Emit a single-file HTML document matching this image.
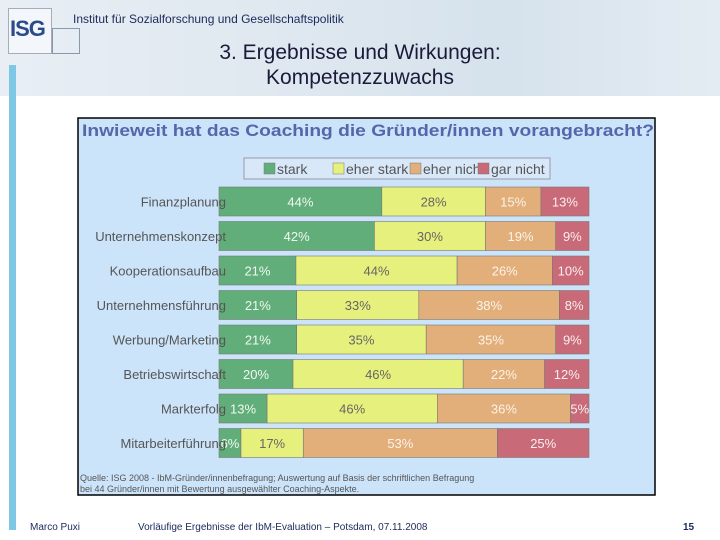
<!DOCTYPE html>
<html><head><meta charset="utf-8"><style>
body{margin:0;width:720px;height:540px;overflow:hidden;background:#fff;font-family:"Liberation Sans",sans-serif;position:relative}
.abs{position:absolute}
</style></head><body>
<div class="abs" style="left:0;top:0;width:720px;height:96px;background:linear-gradient(90deg,#e8eef4,#dfe8f0 40%,#d6e2ec 70%,#e4ecf3)"></div>
<div class="abs" style="left:8px;top:8px;width:42px;height:44px;border:1px solid #aab;background:#f3f6fa"></div>
<div class="abs" style="left:52px;top:28px;width:26px;height:24px;border:1px solid #8899aa"></div>
<div class="abs" style="left:10px;top:16px;font-size:22px;font-weight:bold;color:#2a4a8a;letter-spacing:-1px">ISG</div>
<div class="abs" style="left:73px;top:12px;font-size:12px;color:#1a2a5a">Institut für Sozialforschung und Gesellschaftspolitik</div>
<div class="abs" style="left:9px;top:65px;width:7px;height:465px;background:#7ec8e6"></div>
<div class="abs" style="left:150px;top:40px;width:420px;text-align:center;font-size:21px;line-height:25px;color:#1a1a3a">3. Ergebnisse und Wirkungen:<br>Kompetenzzuwachs</div>
<svg class="abs" style="left:0;top:0" width="720" height="540">
<rect x="78" y="118" width="577" height="377" fill="#cce4fa" stroke="#000" stroke-width="1.5"/>
<text x="82" y="136" font-size="17" font-weight="bold" fill="#5566aa" textLength="572" lengthAdjust="spacingAndGlyphs">Inwieweit hat das Coaching die Gründer/innen vorangebracht?</text>
<rect x="244" y="158" width="306" height="21" fill="#d8e8f8" stroke="#99a"/>
<g id="legend" font-size="14" fill="#555"></g>
<g id="bars"></g>
<text x="80" y="481" font-size="9" fill="#555">Quelle: ISG 2008 - IbM-Gründer/innenbefragung; Auswertung auf Basis der schriftlichen Befragung</text>
<text x="80" y="492" font-size="9" fill="#555">bei 44 Gründer/innen mit Bewertung ausgewählter Coaching-Aspekte.</text>
<text x="30" y="530" font-size="10" fill="#1a2a5a">Marco Puxi</text>
<text x="138" y="530" font-size="10" fill="#1a2a5a">Vorläufige Ergebnisse der IbM-Evaluation – Potsdam, 07.11.2008</text>
<text x="683" y="530" font-size="10" font-weight="bold" fill="#1a2a5a">15</text>
</svg>
<script>
const categories=["Finanzplanung","Unternehmenskonzept","Kooperationsaufbau","Unternehmensführung","Werbung/Marketing","Betriebswirtschaft","Markterfolg","Mitarbeiterführung"];
const seriesNames=["stark","eher stark","eher nicht","gar nicht"];
const stark=[44,42,21,21,21,20,13,6];
const eherStark=[28,30,44,33,35,46,46,17];
const eherNicht=[15,19,26,38,35,22,36,53];
const garNicht=[13,9,10,8,9,12,5,25];
const colors=["#62ae7a","#e6f07c","#e2ae7a","#c86a78"];
const textCol=["#f0f8f0","#666","#fbf3ea","#fbeef0"];
const NS="http://www.w3.org/2000/svg";
const x0=219,W=370,y0=187,step=34.5,h=29;
const xs=v=>v/100*W;
const ys=i=>y0+i*step;
const bars=document.getElementById('bars');
const series=[stark,eherStark,eherNicht,garNicht];
function mk(t,a,p){const e=document.createElementNS(NS,t);for(const k in a)e.setAttribute(k,a[k]);p.appendChild(e);return e;}
categories.forEach((c,i)=>{
  const tot=series.reduce((s,a)=>s+a[i],0);
  let acc=0;
  series.forEach((s,j)=>{
    const w=xs(s[i]/tot*100),x=x0+xs(acc/tot*100);
    const r=mk('rect',{x:x,y:ys(i),width:w,height:h,fill:colors[j],stroke:'#777','stroke-width':0.6},bars);
    
    
    const t=mk('text',{x:x+w/2,y:ys(i)+h/2+5,'font-size':13,fill:textCol[j],'text-anchor':'middle'},bars);
    t.textContent=s[i]+'%';
    
    
    acc+=s[i];
  });
  const lab=mk('text',{x:x0+7,y:ys(i)+h/2+5,'font-size':13,fill:'#555','text-anchor':'end'},bars);
  lab.textContent=c;
  
  
});
const leg=document.getElementById('legend');
const lx=[264,333,410,478];
seriesNames.forEach((n,j)=>{
  const r=mk('rect',{x:lx[j],y:163,width:11,height:11,fill:colors[j],stroke:'#777','stroke-width':0.5},leg);
  
  
  const t=mk('text',{x:lx[j]+13,y:174},leg);
  t.textContent=n;
  
  
});
</script>
</body></html>
